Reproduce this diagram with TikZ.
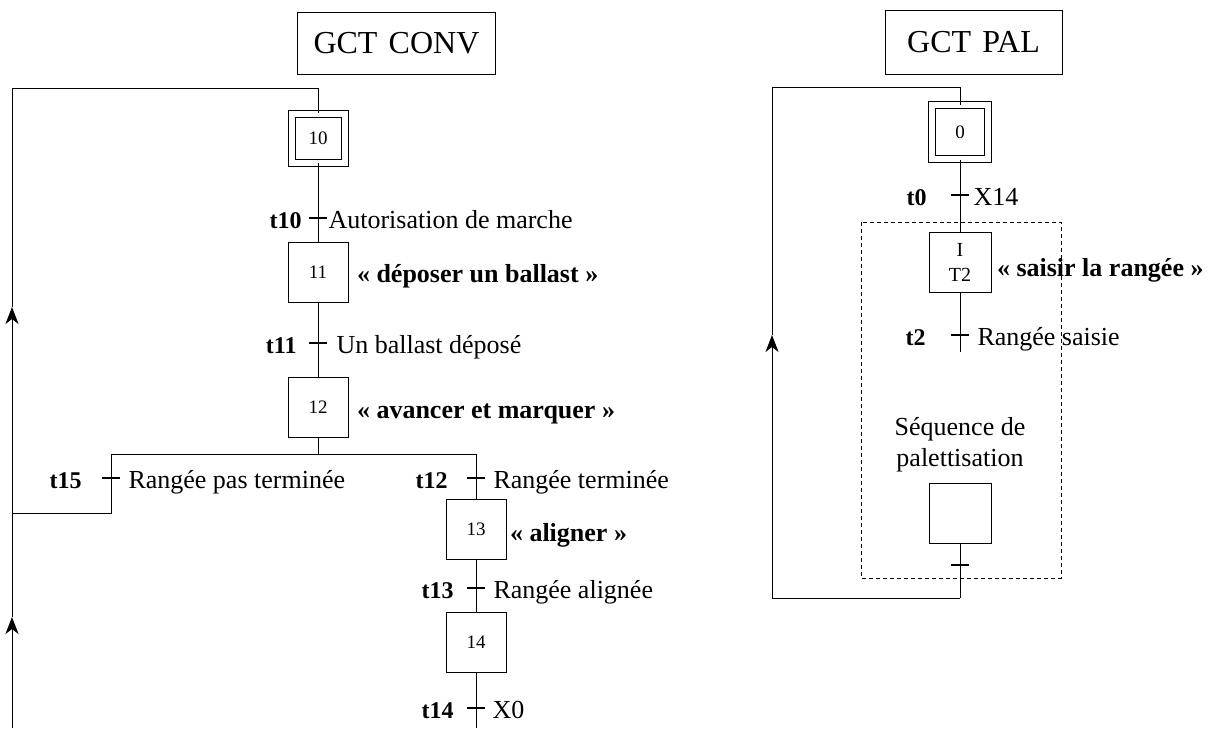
\documentclass[tikz,border=0pt]{standalone}
\usepackage{fontspec}
\setmainfont{Liberation Serif}
\usetikzlibrary{arrows.meta, calc, positioning}

\begin{document}
\begin{tikzpicture}[x=0.5pt, y=-0.5pt, >={Stealth[length=8.5pt, width=6.5pt, inset=2.5pt]}, line width=0.5pt,
  etape/.style={draw, minimum width=30pt, minimum height=30pt, inner sep=0pt, font=\fontsize{9.5}{12.5}\selectfont},
  etapeinit/.style={draw, double, double distance=3pt, inner sep=0pt, font=\fontsize{9.5}{11}\selectfont},
  titre/.style={draw, inner xsep=8pt, inner ysep=0pt, font=\fontsize{16}{19}\selectfont},
  nomt/.style={anchor=base east, inner sep=0pt, font=\bfseries\fontsize{12}{14}\selectfont},
  cond/.style={anchor=base west, inner sep=0pt, font=\fontsize{13}{15.5}\selectfont},
  action/.style={anchor=base west, inner sep=0pt, font=\bfseries\fontsize{13}{15.5}\selectfont},
  tick/.style={line width=0.7pt}]
  \useasboundingbox (0,0) rectangle (1219,728);

  % grafcet GCT CONV
  \node[titre, anchor=west, minimum height=31pt] (gconv) at (297,43) {GCT\hspace{0.35em}CONV};
  \node[etapeinit, minimum width=26.5pt, minimum height=24.5pt] (e10) at (318,138) {10};
  \coordinate (t10) at (318,218);
  \node[etape] (e11) at (318,272) {11};
  \coordinate (t11) at (318,343);
  \node[etape] (e12) at (318,407) {12};
  \coordinate (div) at (318,454);
  \coordinate (g15) at (111,454);
  \coordinate (t15) at (111,478);
  \coordinate (r15) at (111,513);
  \coordinate (d12) at (476,454);
  \coordinate (t12) at (476,478);
  \node[etape] (e13) at (476,529) {13};
  \coordinate (t13) at (476,588);
  \node[etape] (e14) at (476,642) {14};
  \coordinate (t14) at (476,708);
  \coordinate (fin14) at (476,728);
  % retour gauche
  \coordinate (bg) at (12,728);
  \coordinate (fl2) at (12,617);
  \coordinate (jg) at (12,513);
  \coordinate (fl1) at (12,307);
  \coordinate (hg) at (12,88);

  \draw (e10.south) -- (e11.north);
  \draw (e11.south) -- (e12.north);
  \draw (e12.south) -- (div);
  \draw (g15) -- (d12);
  \draw (g15) -- (r15) -- (jg);
  \draw (d12) -- (e13.north);
  \draw (e13.south) -- (e14.north);
  \draw (e14.south) -- (fin14);
  \draw[->] (bg) -- (fl2);
  \draw[->] (fl2) -- (fl1);
  \draw (fl1) -- (hg) -| (e10.north);

  % transitions
  \foreach \t in {t10,t11,t15,t12,t13,t14}
    \draw[tick] ($(\t)+(-9,0)$) -- ($(\t)+(9,0)$);
  \node[nomt] (n10) at ($(t10)+(-16,10)$) {t10};
  \node[cond] (c10) at ($(t10)+(10,10)$) {Autorisation de marche};
  \node[nomt] (n11) at ($(t11)+(-21,10)$) {t11};
  \node[cond] (c11) at ($(t11)+(18,10)$) {Un ballast déposé};
  \node[nomt] (n15) at ($(t15)+(-29,10)$) {t15};
  \node[cond] (c15) at ($(t15)+(17,10)$) {Rangée pas terminée};
  \node[nomt] (n12) at ($(t12)+(-28,10)$) {t12};
  \node[cond] (c12) at ($(t12)+(17,10)$) {Rangée terminée};
  \node[nomt] (n13) at ($(t13)+(-22,10)$) {t13};
  \node[cond] (c13) at ($(t13)+(17,10)$) {Rangée alignée};
  \node[nomt] (n14) at ($(t14)+(-22,10)$) {t14};
  \node[cond] (c14) at ($(t14)+(16,10)$) {X0};

  % actions
  \node[action] (a11) at ($(e11.east)+(8,10)$) {« déposer un ballast »};
  \node[action] (a12) at ($(e12.east)+(8,11)$) {« avancer et marquer »};
  \node[action] (a13) at ($(e13.east)+(3,12)$) {« aligner »};

  % grafcet GCT PAL
  \node[titre, minimum width=88.5pt, minimum height=32pt] (gpal) at (973.5,42) {GCT\hspace{0.35em}PAL};
  \node[etapeinit, minimum width=28pt, minimum height=27pt] (e0) at (960,132) {0};
  \coordinate (t0) at (960,195);
  \node[etape, minimum width=31pt, align=center, font=\fontsize{10}{12.5}\selectfont] (e1) at (960,262) {I\\T2};
  \coordinate (t2) at (960,335);
  \coordinate (f2) at (960,352);
  \node[align=center, inner sep=0pt, font=\fontsize{13}{15.5}\selectfont] (seq) at (960,445) {Séquence de\\palettisation};
  \node[etape, minimum width=31pt] (eseq) at (960,513) {};
  \coordinate (tf) at (960,565);
  \coordinate (bd) at (960,598);
  \coordinate (bdg) at (772,598);
  \coordinate (fl3) at (772,335);
  \coordinate (hd) at (772,87);

  \draw[dashed, dash pattern=on 2pt off 1.5pt] (861,222) rectangle (1061,578);
  \draw (e0.south) -- (e1.north);
  \draw (e1.south) -- (f2);
  \draw (eseq.south) -- (bd);
  \draw[->] (bd) -- (bdg) -- (fl3);
  \draw (fl3) -- (hd) -| (e0.north);

  \foreach \t in {t0,t2,tf}
    \draw[tick] ($(\t)+(-9,0)$) -- ($(\t)+(9,0)$);
  \node[nomt] (n0) at ($(t0)+(-33,10)$) {t0};
  \node[cond] (c0) at ($(t0)+(13,10)$) {X14};
  \node[nomt] (n2) at ($(t2)+(-34,10)$) {t2};
  \node[cond] (c2) at ($(t2)+(17,10)$) {Rangée saisie};
  \node[action] (a1) at ($(e1.east)+(5,14)$) {« saisir la rangée »};
\end{tikzpicture}
\end{document}
